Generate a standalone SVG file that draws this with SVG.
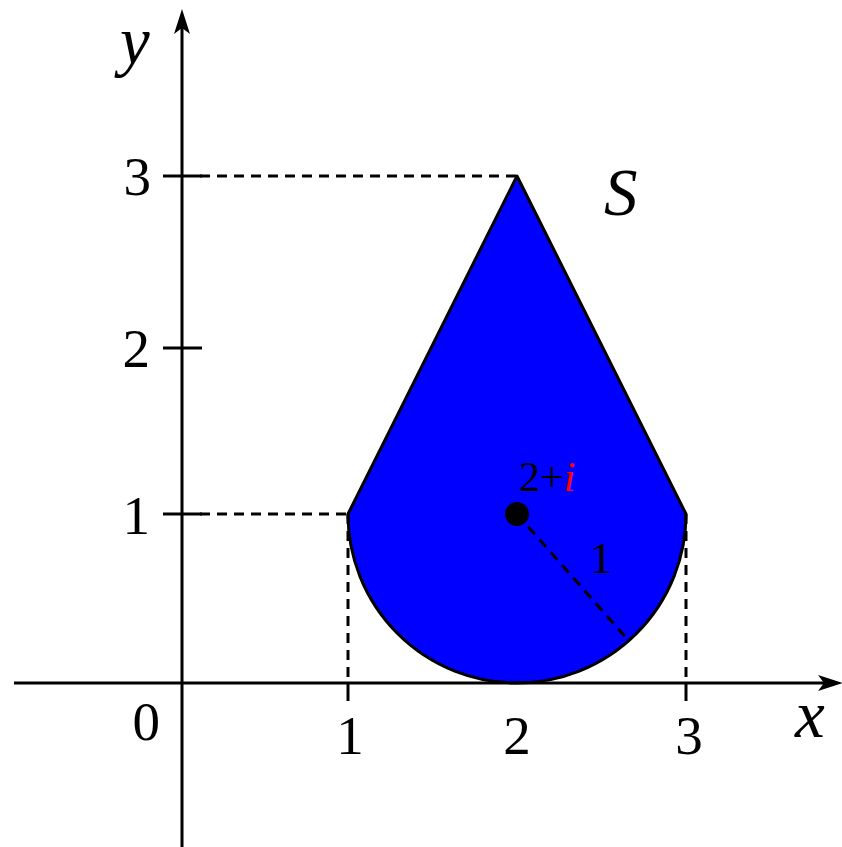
<svg xmlns="http://www.w3.org/2000/svg" width="842" height="847" viewBox="0 0 842 847">
<style>
.ax{stroke:#000;stroke-width:3;fill:none}
.dash{stroke:#000;stroke-width:3;fill:none;stroke-dasharray:10 7}
text{font-family:"Liberation Serif","Times New Roman",Times,serif}
.num{font-size:55px;fill:#000}
.var{font-style:italic;font-size:67px;fill:#000}
</style>
<rect width="842" height="847" fill="#fff"/>
<g id="region">
<path d="M517,176 L686,514 A169,169 0 0 1 348,514 Z" fill="#0000ff" stroke="#000" stroke-width="3" stroke-linejoin="round"/>
</g>
<g id="connectors">
<line class="dash" x1="200" y1="176" x2="517" y2="176"/>
<line class="dash" x1="200" y1="514" x2="348" y2="514"/>
<line class="dash" x1="348" y1="514" x2="348" y2="683"/>
<line class="dash" x1="686" y1="514" x2="686" y2="683"/>
<line class="dash" x1="517" y1="514" x2="629" y2="641"/>
</g>
<g id="axes">
<line class="ax" x1="14" y1="683" x2="830" y2="683"/>
<polygon points="843,683 818,675 824,683 818,691" fill="#000"/>
<line class="ax" x1="182" y1="847" x2="182" y2="24"/>
<polygon points="182,9 190,34 182,28 174,34" fill="#000"/>
<line class="ax" x1="163" y1="176" x2="202" y2="176"/>
<line class="ax" x1="163" y1="348" x2="202" y2="348"/>
<line class="ax" x1="163" y1="514" x2="202" y2="514"/>
<line class="ax" x1="348" y1="683" x2="348" y2="701"/>
<line class="ax" x1="686" y1="683" x2="686" y2="701"/>
</g>
<g id="center">
<circle cx="517" cy="514" r="12" fill="#000"/>
</g>
<g id="labels">
<text class="var" x="120" y="64">y</text>
<text class="var" x="795" y="737">x</text>
<text class="var" x="604" y="215">S</text>
<text class="num" x="151" y="195" text-anchor="end">3</text>
<text class="num" x="150" y="367" text-anchor="end">2</text>
<text class="num" x="150" y="534" text-anchor="end">1</text>
<text class="num" x="160" y="740" text-anchor="end">0</text>
<text class="num" x="350" y="754" text-anchor="middle">1</text>
<text class="num" x="517" y="754" text-anchor="middle">2</text>
<text class="num" x="689" y="754" text-anchor="middle">3</text>
<text x="519" y="491" font-size="42" fill="#000">2+<tspan fill="#ff0000" font-style="italic">i</tspan></text>
<text x="601" y="573" font-size="45" fill="#000" text-anchor="middle">1</text>
</g>
</svg>
